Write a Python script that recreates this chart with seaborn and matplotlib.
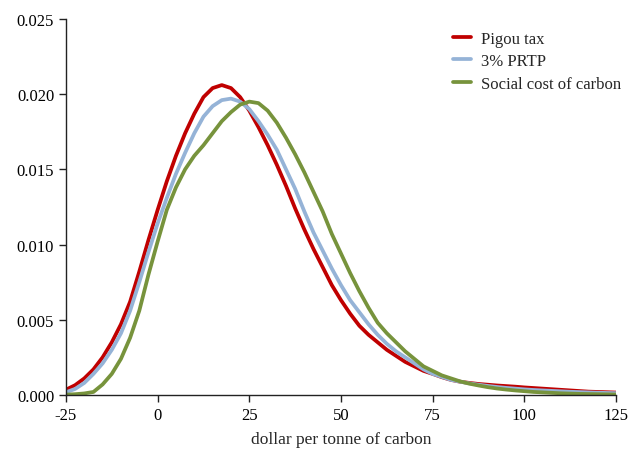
import numpy as np
import pandas as pd
import matplotlib
matplotlib.use("Agg")
import matplotlib.pyplot as plt
import seaborn as sns

x_vals = [-25, -22.5, -20, -17.5, -15, -12.5, -10, -7.5, -5, -2.5,
          0, 2.5, 5, 7.5, 10, 12.5, 15, 17.5, 20, 22.5,
          25, 27.5, 30, 32.5, 35, 37.5, 40, 42.5, 45, 47.5,
          50, 52.5, 55, 57.5, 60, 62.5, 65, 67.5, 70, 72.5,
          75, 77.5, 80, 82.5, 85, 87.5, 90, 92.5, 95, 97.5,
          100, 102.5, 105, 107.5, 110, 112.5, 115, 117.5, 120, 122.5, 125]

pigou = [0.00035, 0.00065, 0.0011, 0.0017, 0.0025, 0.0035, 0.0047, 0.0062, 0.0082, 0.0103,
         0.0123, 0.0142, 0.0159, 0.0174, 0.0187, 0.0198, 0.0204, 0.0206, 0.0204, 0.0198,
         0.0189, 0.0178, 0.0166, 0.0153, 0.0139, 0.0124, 0.0110, 0.0097, 0.0085, 0.0073,
         0.0063, 0.0054, 0.0046, 0.0040, 0.0035, 0.0030, 0.0026, 0.0022, 0.0019, 0.0016,
         0.0014, 0.00118, 0.0010, 0.00088, 0.0008, 0.00073, 0.00068, 0.00063, 0.00059, 0.00055,
         0.0005, 0.00046, 0.00042, 0.00038, 0.00034, 0.0003, 0.00026, 0.00022, 0.0002, 0.00018, 0.00016]

prtp = [0.00018, 0.0004, 0.0008, 0.0014, 0.0021, 0.0030, 0.0041, 0.0056, 0.0075, 0.0095,
        0.0114, 0.0131, 0.0147, 0.0161, 0.0174, 0.0185, 0.0192, 0.0196, 0.0197, 0.0195,
        0.0190, 0.0182, 0.0173, 0.0163, 0.0150, 0.0137, 0.0122, 0.0108, 0.0096, 0.0084,
        0.0073, 0.0063, 0.0055, 0.0047, 0.0040, 0.0034, 0.0029, 0.0025, 0.0021, 0.0017,
        0.0014, 0.0012, 0.0010, 0.00088, 0.00077, 0.00068, 0.0006, 0.00053, 0.00047, 0.00042,
        0.00037, 0.00033, 0.0003, 0.00027, 0.00024, 0.00021, 0.00019, 0.00017, 0.00015, 0.00013, 0.00012]

scc = [0.00002, 0.00005, 0.0001, 0.0002, 0.0007, 0.0014, 0.0024, 0.0038, 0.0056, 0.0080,
       0.0102, 0.0123, 0.0138, 0.0150, 0.0159, 0.0166, 0.0174, 0.0182, 0.0188, 0.0193,
       0.0195, 0.0194, 0.0189, 0.0181, 0.0171, 0.0160, 0.0148, 0.0135, 0.0122, 0.0107,
       0.0094, 0.0081, 0.0069, 0.0058, 0.0048, 0.0041, 0.0035, 0.0029, 0.0024, 0.0019,
       0.0016, 0.0013, 0.0011, 0.0009, 0.00075, 0.00063, 0.00052, 0.00043, 0.00036, 0.0003,
       0.00025, 0.0002, 0.00017, 0.00014, 0.00011, 0.00009, 0.00007, 0.00006, 0.00005, 0.00004, 0.00003]

series_names = ["Pigou tax", "3% PRTP", "Social cost of carbon"]
colors = ["#C00000", "#95B3D7", "#77933C"]
x_ticks = [-25, 0, 25, 50, 75, 100, 125]
y_ticks = [0.000, 0.005, 0.010, 0.015, 0.020, 0.025]

df = pd.DataFrame({
    "x": x_vals * 3,
    "y": pigou + prtp + scc,
    "series": [series_names[0]] * len(x_vals) + [series_names[1]] * len(x_vals) + [series_names[2]] * len(x_vals),
})

sns.set_style("ticks")
plt.rcParams["font.family"] = ["Liberation Serif", "DejaVu Serif"]
plt.rcParams["font.size"] = 12

fig = plt.figure(figsize=(6.28, 4.52), dpi=100)
ax = fig.add_axes([0.105, 0.124, 0.876, 0.832])

sns.lineplot(data=df, x="x", y="y", hue="series", hue_order=series_names,
             palette=dict(zip(series_names, colors)), linewidth=2.7, ax=ax)

ax.set_xlim(-25, 125)
ax.set_ylim(0, 0.025)
ax.set_xticks(x_ticks)
ax.set_xticklabels([str(t) for t in x_ticks])
ax.set_yticks(y_ticks)
ax.set_yticklabels([f"{t:.3f}" for t in y_ticks])
ax.tick_params(axis="both", direction="out", length=5, width=1, colors="#222222", labelsize=12, labelcolor="black")
ax.set_xlabel("dollar per tonne of carbon", fontsize=12.5, labelpad=6)
ax.set_ylabel("")
for s in ["top", "right"]:
    ax.spines[s].set_visible(False)
for s in ["left", "bottom"]:
    ax.spines[s].set_color("#222222")
    ax.spines[s].set_linewidth(1)

leg = ax.legend(loc="upper right", frameon=False, fontsize=12, handlelength=1.05,
                handletextpad=0.6, labelspacing=0.4, borderaxespad=0.3,
                bbox_to_anchor=(1.03, 1.0))
for line in leg.get_lines():
    line.set_linewidth(2.7)

fig.savefig("out.png", dpi=100)
